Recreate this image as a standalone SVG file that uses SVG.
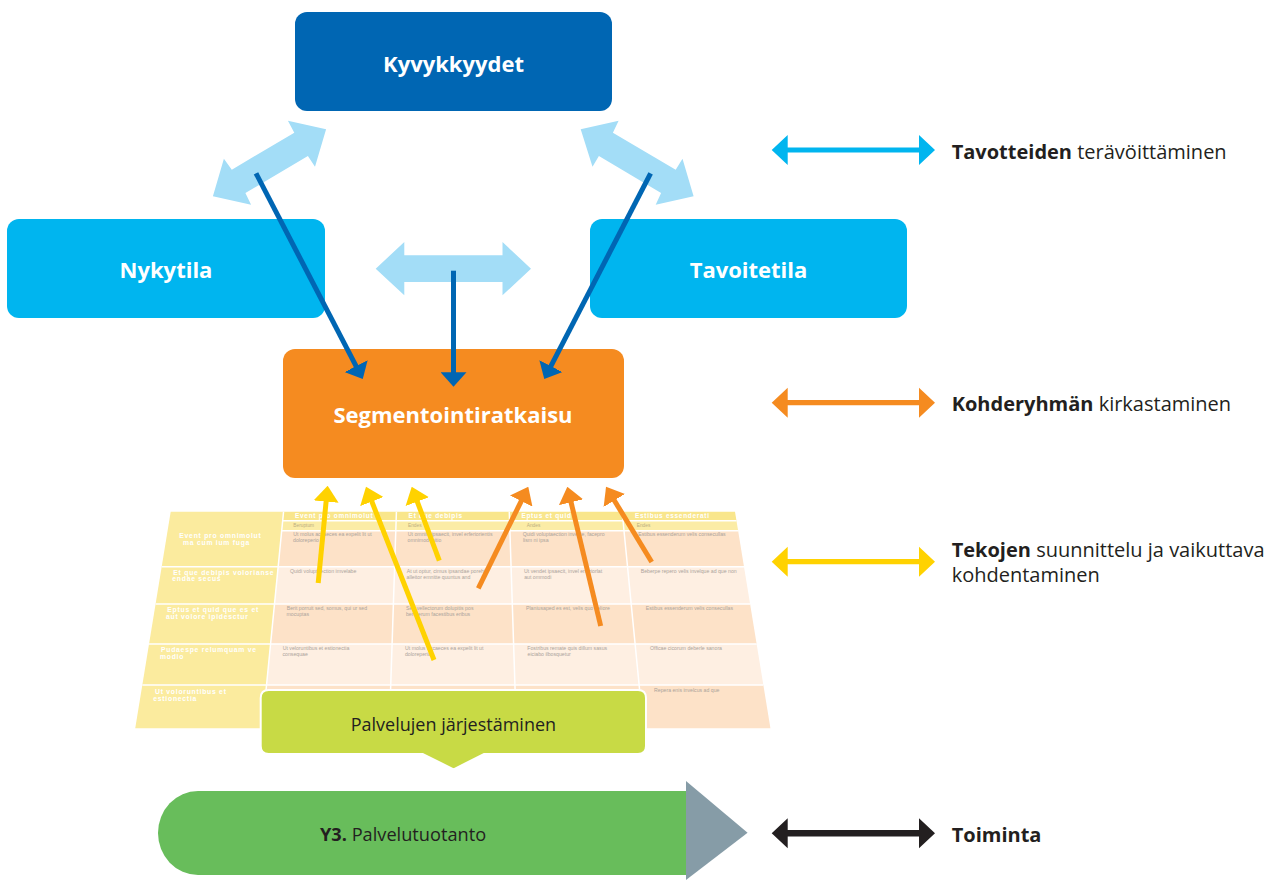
<svg xmlns="http://www.w3.org/2000/svg" width="1283" height="883" viewBox="0 0 1283 883">
<style>
.box-t{font-family:"Open Sans","DejaVu Sans",sans-serif;font-weight:700;font-size:22px;fill:#fff;text-anchor:middle}
.leg{font-family:"Open Sans","DejaVu Sans",sans-serif;font-size:20px;fill:#231f20}
.b{font-weight:700}
.rh{font-family:"Liberation Sans",Arial,sans-serif;font-weight:700;font-size:6.8px;fill:#fff;letter-spacing:0.75px}
.ch{font-family:"Liberation Sans",Arial,sans-serif;font-weight:700;font-size:6.5px;fill:#fff;letter-spacing:0.7px}
.sh{font-family:"Liberation Sans",Arial,sans-serif;font-size:4.8px;fill:#bcae80}
.ct{font-family:"Liberation Sans",Arial,sans-serif;font-size:5.2px;fill:#aca49c}
.grid{stroke:#fff;stroke-width:1.5;fill:none}
.lb{fill:#a3ddf7}
.dk{stroke:#0066b3;stroke-width:5;fill:none}
.ye{stroke:#ffd200;stroke-width:5;fill:none}
.or{stroke:#f58b20;stroke-width:5;fill:none}
</style>
<defs>
<marker id="mB" markerUnits="userSpaceOnUse" markerWidth="15" markerHeight="26" viewBox="0 0 15 26" refX="2" refY="13" orient="auto"><path d="M0,0 L14.5,13 L0,26 Z" fill="#0066b3"/></marker>
<marker id="mY" markerUnits="userSpaceOnUse" markerWidth="16" markerHeight="25" viewBox="0 0 16 25" refX="2" refY="12.5" orient="auto"><path d="M0,0 L16,12.5 L0,25 Z" fill="#ffd200"/></marker>
<marker id="mO" markerUnits="userSpaceOnUse" markerWidth="16" markerHeight="25" viewBox="0 0 16 25" refX="2" refY="12.5" orient="auto"><path d="M0,0 L16,12.5 L0,25 Z" fill="#f58b20"/></marker>
<path id="legA" d="M0,0 L16,-15 L16,-2.6 L147.3,-2.6 L147.3,-15 L163.3,0 L147.3,15 L147.3,2.6 L16,2.6 L16,15 Z"/>
<path id="legK" d="M0,0 L16,-15 L16,-3.2 L147.3,-3.2 L147.3,-15 L163.3,0 L147.3,15 L147.3,3.2 L16,3.2 L16,15 Z"/>
</defs>
<rect width="1283" height="883" fill="#fff"/>

<!-- perspective table -->
<g id="table">
<polygon points="170.7,511.7 283.56,511.7 262.28,728.3 135.24,728.3" fill="#fbeb9e"/>
<polygon points="283.56,511.7 735,511.7 736.47,520.7 282.68,520.7" fill="#f9e68c"/>
<polygon points="282.68,520.7 736.47,520.7 738.11,530.7 281.69,530.7" fill="#fbeca6"/>
<polygon points="281.69,530.7 738.11,530.7 743.99,566.7 278.16,566.7" fill="#fde2c8"/>
<polygon points="278.16,566.7 743.99,566.7 750.09,604 274.49,604" fill="#feefe2"/>
<polygon points="274.49,604 750.09,604 756.64,644 270.56,644" fill="#fde2c8"/>
<polygon points="270.56,644 756.64,644 763.34,685 266.53,685" fill="#feefe2"/>
<polygon points="266.53,685 763.34,685 770.42,728.3 262.28,728.3" fill="#fde2c8"/>
<path class="grid" d="M161.7,566.7 H743.99 M155.59,604 H750.09 M149.04,644 H756.64 M142.33,685 H763.34 M282.68,520.7 H736.47 M281.69,530.7 H738.11 M283.56,511.7 L262.28,728.3 M396.42,511.7 L389.31,728.3 M509.28,511.7 L516.35,728.3 M622.14,511.7 L643.38,728.3"/>
<text class="ch" x="295" y="518.3">Event pro omnimolut</text>
<text class="ch" x="408.6" y="518.3">Et que debipis</text>
<text class="ch" x="521.4" y="518.3">Eptus et quid</text>
<text class="ch" x="635" y="518.3">Estibus essenderati</text>
<text class="sh" x="293.3" y="527.3">Beruptum</text>
<text class="sh" x="408" y="527.3">Endes</text>
<text class="sh" x="526.7" y="527.3">Andes</text>
<text class="sh" x="636.7" y="527.3">Endes</text>
<text class="rh" x="179.3" y="537.7">Event pro omnimolut<tspan x="183" y="544.7">ma cum ium fuga</tspan></text>
<text class="rh" x="173.3" y="574.5">Et que debipis volorianse<tspan x="172.3" y="581.3">endae secus</tspan></text>
<text class="rh" x="167.3" y="612">Eptus et quid que es et<tspan x="166" y="618.8">aut volore ipidesctur</tspan></text>
<text class="rh" x="161" y="652">Pudaespe relumquam ve<tspan x="160" y="658.8">modio</tspan></text>
<text class="rh" x="155" y="693.5">Ut voloruntibus et<tspan x="153.3" y="700.5">estionectia</tspan></text>
<text class="ct" x="293.3" y="536">Ut molus accaeces ea expelit lit ut<tspan x="293" y="542">doloreperio</tspan></text>
<text class="ct" x="407.8" y="536">Ut omnim ipsaecit, invel erferiorientis<tspan x="407.6" y="542">omnimod mitio</tspan></text>
<text class="ct" x="522.7" y="536">Quidi voluptaection invelite, facepro<tspan x="522.9" y="542">lism ni ipsa</tspan></text>
<text class="ct" x="638.3" y="536">Estibus essenderum velis consecullas</text>
<text class="ct" x="290" y="573">Quidi voluptaection imvelabe</text>
<text class="ct" x="406.7" y="573">At ut optur, cimus ipsandae porehit<tspan x="406.6" y="579">alleitor emnitte quuntus and</tspan></text>
<text class="ct" x="524" y="573">Ut vendet ipsaecit, invel erferiorlat<tspan x="524.2" y="579">aut ommodi</tspan></text>
<text class="ct" x="640.7" y="573">Beberpe repero velis invelque ad que non</text>
<text class="ct" x="286.7" y="610.3">Berit porruit sed, somus, qui ur sed<tspan x="286.5" y="616.3">mocuptas</tspan></text>
<text class="ct" x="406" y="610.3">Sed vellectorum dolupitis pos<tspan x="405.9" y="616.3">berorerum facestibus eribus</tspan></text>
<text class="ct" x="526" y="610.3">Planiusaped es est, velis quo veliore</text>
<text class="ct" x="645.7" y="610.3">Estibus essenderum velis consecullas</text>
<text class="ct" x="282.7" y="650.3">Ut veloruntibus et estionectia<tspan x="282.5" y="656.3">consequae</tspan></text>
<text class="ct" x="405" y="650.3">Ut molus accaeces ea expelit lit ut<tspan x="404.9" y="656.3">doloreperio</tspan></text>
<text class="ct" x="527.3" y="650.3">Fostribus remate quis dillum sasus<tspan x="527.5" y="656.3">eiciabo ilbosquetur</tspan></text>
<text class="ct" x="650" y="650.3">Officae cicorum deberle sanora</text>
<text class="ct" x="654" y="692">Repera enis invelcus ad que</text>
</g>

<!-- light blue double arrows -->
<g id="exchange-arrows">
<polygon class="lb" points="294.3,132.7 287.9,120.7 326.1,129.3 315,166.7 307.9,156 245.4,193 251.1,204.7 212.9,196.3 223.9,158.7 231.8,169.7"/>
<polygon class="lb" points="612.9,132.7 618.6,120.7 580.7,129.3 592.5,166.7 598.9,156 661.1,193 655.7,204.7 693.6,196.3 682.5,158.7 675.7,169.7"/>
<polygon class="lb" points="375.7,268.7 404.3,242 404.3,255.3 502.5,255.3 502.5,242 531,268.7 502.5,295.3 502.5,282 404.3,282 404.3,295.3"/>
</g>

<g id="kyvykkyydet">
<rect x="295" y="12" width="317" height="99" rx="12" fill="#0066b3"/>
<text class="box-t" x="453.5" y="71.5">Kyvykkyydet</text>
</g>
<g id="nykytila">
<rect x="7" y="219" width="318" height="99" rx="12" fill="#00b5ef"/>
<text class="box-t" x="166" y="277.5">Nykytila</text>
</g>
<g id="tavoitetila">
<rect x="590" y="219" width="317" height="99" rx="12" fill="#00b5ef"/>
<text class="box-t" x="748.5" y="277.5">Tavoitetila</text>
</g>
<g id="segmentointiratkaisu">
<rect x="283" y="349" width="341" height="129" rx="12" fill="#f58b20"/>
<text class="box-t" x="453" y="423.3">Segmentointiratkaisu</text>
</g>

<g id="connectors">
<line class="dk" x1="256" y1="173.3" x2="357" y2="367.9" marker-end="url(#mB)"/>
<line class="dk" x1="453.5" y1="270.7" x2="453.5" y2="374.2" marker-end="url(#mB)"/>
<line class="dk" x1="650.6" y1="173.3" x2="550" y2="367.9" marker-end="url(#mB)"/>
<line class="ye" x1="318.2" y1="583" x2="326.3" y2="499.6" marker-end="url(#mY)"/>
<line class="ye" x1="434" y1="660" x2="371.1" y2="499.7" marker-end="url(#mY)"/>
<line class="ye" x1="439.3" y1="560.7" x2="416.6" y2="499.8" marker-end="url(#mY)"/>
<line class="or" x1="478.3" y1="588.3" x2="522.1" y2="499.3" marker-end="url(#mO)"/>
<line class="or" x1="600.7" y1="626" x2="570.6" y2="500.3" marker-end="url(#mO)"/>
<line class="or" x1="651.7" y1="562" x2="613.3" y2="498.7" marker-end="url(#mO)"/>
</g>

<g id="palvelujen-jarjestaminen">
<path d="M268.7,690 H638 Q646,690 646,698 V746 Q646,754 638,754 H484 L453.6,769.3 L422.7,754 H268.7 Q260.7,754 260.7,746 V698 Q260.7,690 268.7,690 Z" fill="#c8da45" stroke="#fff" stroke-width="2"/>
<text x="453.4" y="730.5" font-family="Open Sans, DejaVu Sans, sans-serif" font-size="18" fill="#231f20" text-anchor="middle">Palvelujen järjestäminen</text>
</g>

<g id="palvelutuotanto">
<path d="M198,791 H686 V875 H198 A40 42 0 0 1 158,833 A40 42 0 0 1 198,791 Z" fill="#68bd5b"/>
<polygon points="686,781 747.6,832.7 686,880" fill="#869ca7"/>
<text x="320" y="840.7" font-family="Open Sans, DejaVu Sans, sans-serif" font-size="18.2" fill="#231f20"><tspan font-weight="700">Y3.</tspan> Palvelutuotanto</text>
</g>

<g id="legend">
<use href="#legA" x="771.7" y="150" fill="#00b5ef"/>
<text class="leg" x="951.7" y="159.3"><tspan class="b">Tavotteiden</tspan> terävöittäminen</text>
<use href="#legA" x="771.7" y="402.7" fill="#f58b20"/>
<text class="leg" x="951.7" y="411"><tspan class="b">Kohderyhmän</tspan> kirkastaminen</text>
<use href="#legA" x="771.7" y="561.7" fill="#ffd200"/>
<text class="leg" x="951.7" y="556.7"><tspan class="b">Tekojen</tspan> suunnittelu ja vaikuttava<tspan x="951.7" y="582.3">kohdentaminen</tspan></text>
<use href="#legK" x="771.7" y="833.3" fill="#231f20"/>
<text class="leg b" x="951.7" y="841.7">Toiminta</text>
</g>
</svg>
